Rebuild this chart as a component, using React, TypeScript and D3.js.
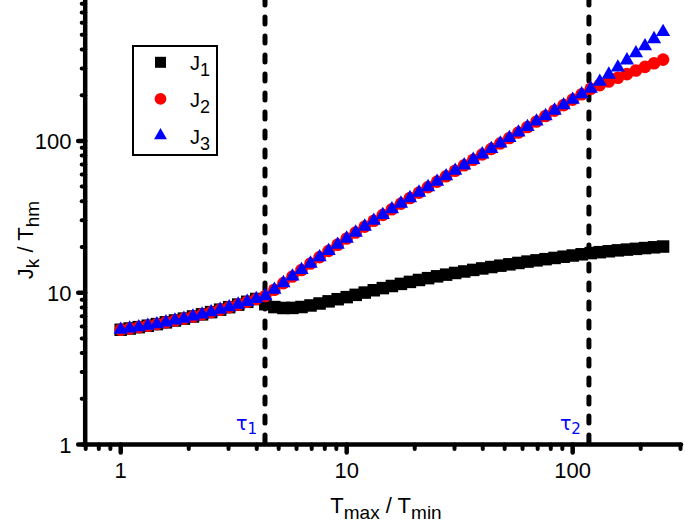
import React from "react";
import * as d3 from "d3";

const xValues = [1, 1.096, 1.202, 1.318, 1.445, 1.585, 1.738, 1.905, 2.089, 2.291, 2.512, 2.754, 3.02, 3.311, 3.631, 3.981, 4.365, 4.786, 5.248, 5.754, 6.31, 6.918, 7.586, 8.318, 9.12, 10, 10.96, 12.02, 13.18, 14.45, 15.85, 17.38, 19.05, 20.89, 22.91, 25.12, 27.54, 30.2, 33.11, 36.31, 39.81, 43.65, 47.86, 52.48, 57.54, 63.1, 69.18, 75.86, 83.18, 91.2, 100, 109.6, 120.2, 131.8, 144.5, 158.5, 173.8, 190.5, 208.9, 229.1, 251.2];

const j1Values = [5.7, 5.81, 5.93, 6.06, 6.21, 6.38, 6.56, 6.75, 6.97, 7.2, 7.45, 7.73, 8.03, 8.35, 8.71, 9.09, 8.4, 8.04, 7.93, 7.94, 8.05, 8.24, 8.49, 8.77, 9.06, 9.35, 9.68, 10.02, 10.38, 10.72, 11.07, 11.43, 11.78, 12.13, 12.47, 12.82, 13.15, 13.49, 13.8, 14.13, 14.45, 14.76, 15.07, 15.38, 15.7, 16.03, 16.33, 16.63, 16.94, 17.26, 17.58, 17.91, 18.24, 18.49, 18.75, 19.01, 19.23, 19.45, 19.68, 19.91, 20.14];

const j2Values = [5.7, 5.81, 5.93, 6.06, 6.21, 6.38, 6.56, 6.75, 6.97, 7.2, 7.45, 7.73, 8.03, 8.35, 8.71, 9.09, 9.51, 10.46, 11.57, 12.79, 14.12, 15.57, 17.15, 18.86, 20.72, 22.73, 24.91, 27.26, 29.8, 32.54, 35.47, 38.64, 42.03, 45.66, 49.62, 53.9, 58.56, 63.62, 69.1, 75.08, 81.56, 88.61, 96.3, 104.6, 113.6, 123.5, 134.2, 145.8, 158.4, 172.1, 186.9, 203.1, 220.6, 233.2, 246.4, 260.4, 275.2, 290.8, 307.3, 324.8, 343.2];

const j3Values = [5.7, 5.81, 5.93, 6.06, 6.21, 6.38, 6.56, 6.75, 6.97, 7.2, 7.45, 7.73, 8.03, 8.35, 8.71, 9.09, 9.51, 10.46, 11.57, 12.79, 14.12, 15.57, 17.15, 18.86, 20.72, 22.73, 24.91, 27.26, 29.8, 32.54, 35.47, 38.64, 42.03, 45.66, 49.62, 53.9, 58.56, 63.62, 69.1, 75.08, 81.56, 88.61, 96.3, 104.6, 113.6, 123.5, 134.2, 145.8, 158.4, 172.1, 186.9, 203.1, 220.6, 245.7, 273.6, 304.8, 339.5, 378.1, 421.1, 469.0, 522.4];

const tauValues = [4.35, 118];
const tauLabels = ["1", "2"];

const xMajorTicks = [1, 10, 100];
const xMinorTicks = [0.7, 0.8, 0.9, 2, 3, 4, 5, 6, 7, 8, 9, 20, 30, 40, 50, 60, 70, 80, 90, 200, 300];
const yMajorTicks = [1, 10, 100];
const yMinorTicks = [2, 3, 4, 5, 6, 7, 8, 9, 20, 30, 40, 50, 60, 70, 80, 90, 200, 300, 400, 500, 600, 700, 800, 900];

const seriesNames = ["1", "2", "3"];

const FONT = "'Liberation Sans', Arial, Helvetica, sans-serif";

export default function App() {
  const x = d3.scaleLog().domain([0.7, 300]).range([85.7, 680.5]);
  const y = d3.scaleLog().domain([1, 1000]).range([444.5, -10.9]);
  const axisY = 444.5;
  const axisX = 85.2;

  const sqSize = 12.5;
  const circR = 6.3;
  const triPath = d3.symbol().type(d3.symbolTriangle).size(88)();
  const sqLeg = 11;
  const triLeg = d3.symbol().type(d3.symbolTriangle).size(72)();

  const fmt = (v: number) => String(v);

  return (
    <svg width={685} height={523} style={{ position: "absolute", left: 0, top: 0, background: "#fff" }} fontFamily={FONT}>
      {/* dashed tau lines */}
      {tauValues.map((t, i) => (
        <g key={"tau" + i}>
          <line x1={x(t)} x2={x(t)} y1={-2} y2={axisY} stroke="#000" strokeWidth={5} strokeDasharray="7 12" strokeLinecap="round" />
          <text x={x(t) - 8} y={430} fill="#0000ff" fontSize={19} textAnchor="end" fontFamily="'DejaVu Sans', sans-serif">
            τ<tspan fontSize={15} dy={4}>{tauLabels[i]}</tspan>
          </text>
        </g>
      ))}

      {/* J1 squares */}
      <g fill="#000">
        {xValues.map((xv, i) => (
          <rect key={"s" + i} x={x(xv) - sqSize / 2} y={y(j1Values[i]) - sqSize / 2} width={sqSize} height={sqSize} />
        ))}
      </g>
      {/* J2 circles */}
      <g fill="#ff0000">
        {xValues.map((xv, i) => (
          <circle key={"c" + i} cx={x(xv)} cy={y(j2Values[i])} r={circR} />
        ))}
      </g>
      {/* J3 triangles */}
      <g fill="#0000ff">
        {xValues.map((xv, i) => (
          <path key={"t" + i} d={triPath as string} transform={`translate(${x(xv)},${y(j3Values[i])})`} />
        ))}
      </g>

      {/* axes */}
      <line x1={axisX} x2={axisX} y1={-12} y2={axisY} stroke="#000" strokeWidth={4.5} />
      <line x1={axisX - 2} x2={681} y1={axisY} y2={axisY} stroke="#000" strokeWidth={4.5} strokeLinecap="round" />

      {xMinorTicks.map((t) => (
        <line key={"xm" + t} x1={x(t)} x2={x(t)} y1={axisY} y2={axisY + 4.5} stroke="#000" strokeWidth={4} strokeLinecap="round" />
      ))}
      {xMajorTicks.map((t) => (
        <g key={"xM" + t}>
          <line x1={x(t)} x2={x(t)} y1={axisY} y2={axisY + 8} stroke="#000" strokeWidth={4.5} strokeLinecap="round" />
          <text x={x(t)} y={477.5} fontSize={22} textAnchor="middle" fill="#000">{fmt(t)}</text>
        </g>
      ))}
      {yMinorTicks.map((t) => (
        <line key={"ym" + t} x1={axisX} x2={axisX - 3.5} y1={y(t)} y2={y(t)} stroke="#000" strokeWidth={4} strokeLinecap="round" />
      ))}
      {yMajorTicks.map((t) => (
        <g key={"yM" + t}>
          <line x1={axisX} x2={axisX - 7} y1={y(t)} y2={y(t)} stroke="#000" strokeWidth={4.5} strokeLinecap="round" />
          <text x={71.5} y={y(t) + 8} fontSize={22} textAnchor="end" fill="#000">{fmt(t)}</text>
        </g>
      ))}

      {/* axis titles */}
      <text x={386} y={513} fontSize={22} textAnchor="middle" fill="#000">
        T<tspan fontSize={19} dy={6}>max</tspan><tspan dy={-6}> / T</tspan><tspan fontSize={19} dy={6}>min</tspan>
      </text>
      <text transform="translate(33,240) rotate(-90)" fontSize={22} textAnchor="middle" fill="#000">
        J<tspan fontSize={19} dy={6}>k</tspan><tspan dy={-6}> / T</tspan><tspan fontSize={19} dy={6}>hm</tspan>
      </text>

      {/* legend */}
      <rect x={133} y={46} width={84} height={109} fill="#fff" stroke="#000" strokeWidth={2} />
      {seriesNames.map((n, i) => {
        const cy = 62.3 + i * 36.6;
        return (
          <g key={"lg" + i}>
            {i === 0 && <rect x={160.5 - sqLeg / 2} y={cy - sqLeg / 2} width={sqLeg} height={sqLeg} fill="#000" />}
            {i === 1 && <circle cx={160.5} cy={cy} r={5.9} fill="#ff0000" />}
            {i === 2 && <path d={triLeg as string} transform={`translate(160.5,${cy})`} fill="#0000ff" />}
            <text x={190} y={cy + 8} fontSize={20} fill="#000">
              J<tspan fontSize={18} dy={6}>{n}</tspan>
            </text>
          </g>
        );
      })}
    </svg>
  );
}
